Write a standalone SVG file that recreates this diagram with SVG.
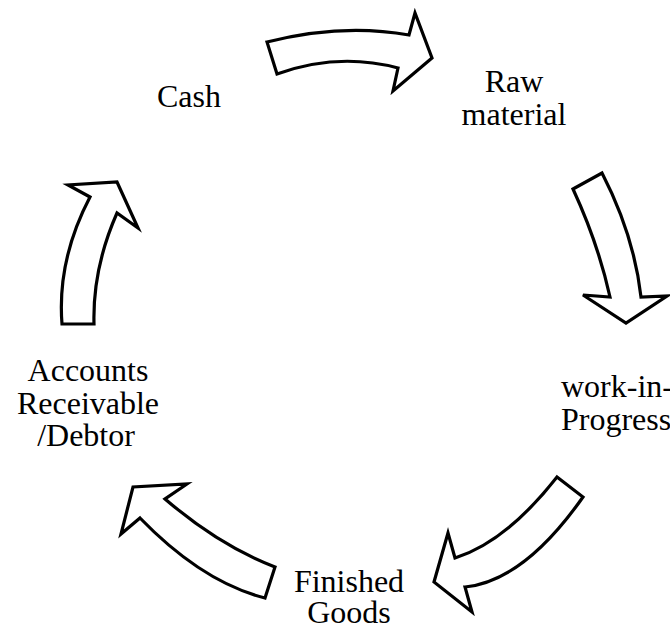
<svg xmlns="http://www.w3.org/2000/svg" width="670" height="625" viewBox="0 0 670 625">
<style>
.arr{fill:#fff;stroke:#000;stroke-width:3.2;stroke-linejoin:miter}
text{font-family:'Liberation Serif','Times New Roman',serif;font-size:32px;fill:#000}
</style>
<rect width="670" height="625" fill="#fff"/>
<g id="connectors">
<path class="arr" d="M267,42 Q342,23 409,35 L415,13 L432,58 L393,91 L398,68 Q338,52 277,74 Z"/>
<path class="arr" d="M573,189 L602,173 Q634,235 641,297 L667,296 L626,323 L583,295 L610,297 Q598,243 573,189 Z"/>
<path class="arr" d="M557,477 L583,497 Q524,581 465,587 L472,612 L434,582 L448,533 L455,558 Q506,542 557,477 Z"/>
<path class="arr" d="M265,598 L275,567 Q220,546 165,499 L187,484 L133,487 L121,534 L140,518 Q202,582 265,598 Z"/>
<path class="arr" d="M62,324 L94,324 Q92.5,268.5 117,213 L138,228 L117,182 L68,185 L90,197 Q57,260 62,324 Z"/>
</g>
<g id="cash"><text x="189" y="107" text-anchor="middle">Cash</text></g>
<g id="raw-material"><text text-anchor="middle"><tspan x="514" y="92">Raw</tspan><tspan x="514" y="124.5">material</tspan></text></g>
<g id="work-in-progress"><text><tspan x="561" y="397">work-in-</tspan><tspan x="561" y="429.5">Progress</tspan></text></g>
<g id="finished-goods"><text text-anchor="middle"><tspan x="349" y="592">Finished</tspan><tspan x="349" y="623">Goods</tspan></text></g>
<g id="accounts-receivable"><text text-anchor="middle"><tspan x="88" y="381">Accounts</tspan><tspan x="88" y="413.5">Receivable</tspan><tspan x="86" y="446">/Debtor</tspan></text></g>
</svg>
